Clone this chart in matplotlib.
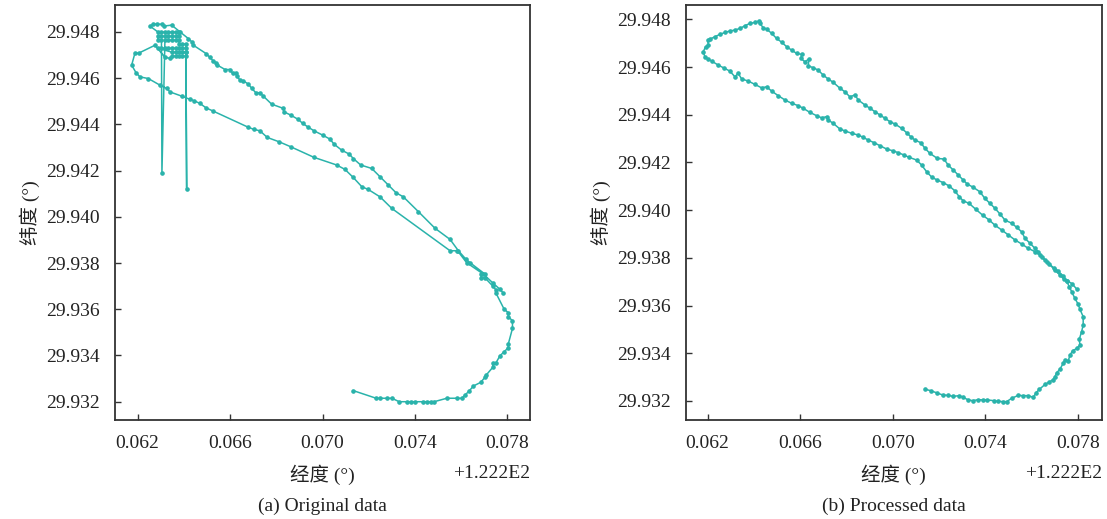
import matplotlib.pyplot as plt
from matplotlib.ticker import FuncFormatter, FixedLocator

plt.rcParams['font.family'] = ['Liberation Serif', 'Noto Sans CJK SC']
plt.rcParams['font.size'] = 14

LON0 = 122.2
COLOR = '#2ab3ab'

x_ticks = [0.062, 0.066, 0.070, 0.074, 0.078]
y_ticks = [29.932, 29.934, 29.936, 29.938, 29.940, 29.942, 29.944, 29.946, 29.948]

# (a) original data: longitude offset from 122.2, latitude
lon_a = [0.07133, 0.07232, 0.07249, 0.07281, 0.07300, 0.07332, 0.07364, 0.07382, 0.07400, 0.07434,
         0.07454, 0.07468, 0.07483, 0.07538, 0.07584, 0.07603, 0.07617, 0.07636, 0.07653, 0.07685,
         0.07703, 0.07708, 0.07737, 0.07737, 0.07751, 0.07768, 0.07786, 0.07804, 0.07804, 0.07822,
         0.07822, 0.07804, 0.07804, 0.07786, 0.07751, 0.07751, 0.07737, 0.07703, 0.07686, 0.07686,
         0.07703, 0.07639, 0.07621, 0.07588, 0.07552, 0.07487, 0.07415, 0.07350, 0.07318, 0.07285,
         0.07249, 0.07213, 0.07165, 0.07133, 0.07116, 0.07083, 0.07050, 0.07032, 0.07001, 0.06963,
         0.06939, 0.06914, 0.06895, 0.06862, 0.06833, 0.06830, 0.06780, 0.06744, 0.06729, 0.06712,
         0.06694, 0.06679, 0.06657, 0.06643, 0.06629, 0.06626, 0.06611, 0.06600, 0.06578, 0.06545,
         0.06539, 0.06527, 0.06513, 0.06496, 0.06441, 0.06434, 0.06419, 0.06383, 0.06347, 0.06315,
         0.06304, 0.06282, 0.06268, 0.06253,
         # jitter cluster
         0.06288, 0.06303, 0.06318, 0.06333, 0.06348, 0.06364, 0.06379,
         0.06379, 0.06364, 0.06348, 0.06333, 0.06318, 0.06303, 0.06288,
         0.06288, 0.06303, 0.06305, 0.06318, 0.06333, 0.06348, 0.06364, 0.06379,
         0.06379, 0.06394, 0.06409,
         0.06409, 0.06394, 0.06379, 0.06364, 0.06348, 0.06333, 0.06318, 0.06303, 0.06288,
         0.06348, 0.06364, 0.06379, 0.06394, 0.06409, 0.06412, 0.06409,
         0.06409, 0.06394, 0.06379, 0.06364, 0.06348, 0.06340, 0.06318, 0.06275,
         # west loop and return leg
         0.06207, 0.06188, 0.06174, 0.06193, 0.06210, 0.06246, 0.06297, 0.06326, 0.06340, 0.06390,
         0.06426, 0.06444, 0.06470, 0.06496, 0.06527, 0.06679, 0.06703, 0.06729, 0.06761, 0.06813,
         0.06862, 0.06963, 0.07061, 0.07097, 0.07133, 0.07170, 0.07198, 0.07249, 0.07300, 0.07552,
         0.07584, 0.07624, 0.07696, 0.07739, 0.07768, 0.07783]
lat_a = [29.93248, 29.93215, 29.93215, 29.93215, 29.93215, 29.93200, 29.93200, 29.93200, 29.93200, 29.93200,
         29.93200, 29.93200, 29.93200, 29.93215, 29.93215, 29.93215, 29.93229, 29.93248, 29.93268, 29.93284,
         29.93306, 29.93315, 29.93349, 29.93366, 29.93369, 29.93399, 29.93416, 29.93434, 29.93450, 29.93517,
         29.93550, 29.93568, 29.93585, 29.93600, 29.93669, 29.93683, 29.93700, 29.93736, 29.93736, 29.93752,
         29.93752, 29.93801, 29.93816, 29.93853, 29.93902, 29.93950, 29.94022, 29.94086, 29.94104, 29.94137,
         29.94173, 29.94209, 29.94224, 29.94252, 29.94271, 29.94288, 29.94314, 29.94336, 29.94353, 29.94372,
         29.94387, 29.94404, 29.94421, 29.94440, 29.94454, 29.94469, 29.94487, 29.94522, 29.94536, 29.94536,
         29.94555, 29.94574, 29.94588, 29.94591, 29.94608, 29.94623, 29.94620, 29.94637, 29.94637, 29.94656,
         29.94666, 29.94674, 29.94689, 29.94706, 29.94742, 29.94757, 29.94771, 29.94800, 29.94829, 29.94825,
         29.94833, 29.94833, 29.94833, 29.94825,
         29.94799, 29.94799, 29.94799, 29.94799, 29.94799, 29.94799, 29.94799,
         29.94781, 29.94781, 29.94781, 29.94781, 29.94781, 29.94781, 29.94781,
         29.94764, 29.94764, 29.94188, 29.94764, 29.94764, 29.94764, 29.94764, 29.94764,
         29.94747, 29.94747, 29.94747,
         29.94729, 29.94729, 29.94729, 29.94729, 29.94729, 29.94729, 29.94729, 29.94729, 29.94729,
         29.94712, 29.94712, 29.94712, 29.94712, 29.94712, 29.94120, 29.94712,
         29.94695, 29.94695, 29.94695, 29.94695, 29.94695, 29.94685, 29.94690, 29.94742,
         29.94709, 29.94707, 29.94656, 29.94623, 29.94605, 29.94598, 29.94569, 29.94555, 29.94540, 29.94522,
         29.94508, 29.94502, 29.94490, 29.94471, 29.94457, 29.94387, 29.94378, 29.94372, 29.94343, 29.94324,
         29.94303, 29.94257, 29.94224, 29.94205, 29.94170, 29.94130, 29.94118, 29.94086, 29.94036, 29.93853,
         29.93853, 29.93801, 29.93752, 29.93712, 29.93686, 29.93669]

# (b) processed data
lon_b = [0.07140, 0.07164, 0.07190, 0.07216, 0.07240, 0.07262, 0.07288, 0.07305, 0.07327, 0.07346,
         0.07370, 0.07392, 0.07409, 0.07438, 0.07457, 0.07478, 0.07493, 0.07515, 0.07543, 0.07565,
         0.07586, 0.07608, 0.07621, 0.07635, 0.07659, 0.07678, 0.07692, 0.07702, 0.07709, 0.07723,
         0.07738, 0.07745, 0.07759, 0.07767, 0.07778, 0.07798, 0.07810, 0.07807, 0.07817, 0.07824,
         0.07824, 0.07810, 0.07802, 0.07788, 0.07774, 0.07764, 0.07752, 0.07736, 0.07717, 0.07697,
         0.07666, 0.07644, 0.07630, 0.07615, 0.07594, 0.07572, 0.07558, 0.07536, 0.07515, 0.07486,
         0.07464, 0.07442, 0.07421, 0.07399, 0.07377, 0.07348, 0.07323, 0.07305, 0.07284, 0.07262,
         0.07240, 0.07222, 0.07193, 0.07161, 0.07140, 0.07121, 0.07096, 0.07078, 0.07060, 0.07039,
         0.07010, 0.06988, 0.06967, 0.06945, 0.06923, 0.06902, 0.06880, 0.06851, 0.06837, 0.06815,
         0.06794, 0.06772, 0.06743, 0.06721, 0.06700, 0.06678, 0.06657, 0.06635, 0.06638, 0.06621,
         0.06603, 0.06606, 0.06585, 0.06563, 0.06542, 0.06520, 0.06498, 0.06477, 0.06455, 0.06440,
         0.06426, 0.06422, 0.06405, 0.06383, 0.06361, 0.06340, 0.06318, 0.06296, 0.06275, 0.06253,
         0.06232, 0.06210, 0.06200, 0.06203, 0.06191, 0.06181, 0.06188, 0.06200, 0.06217, 0.06246,
         0.06272, 0.06296, 0.06318, 0.06332, 0.06347, 0.06376, 0.06405, 0.06433, 0.06455, 0.06477,
         0.06505, 0.06534, 0.06563, 0.06592, 0.06613, 0.06642, 0.06671, 0.06693, 0.06715, 0.06721,
         0.06743, 0.06772, 0.06794, 0.06823, 0.06851, 0.06873, 0.06894, 0.06919, 0.06945, 0.06974,
         0.07000, 0.07024, 0.07049, 0.07072, 0.07104, 0.07125, 0.07147, 0.07169, 0.07193, 0.07219,
         0.07245, 0.07269, 0.07288, 0.07305, 0.07331, 0.07360, 0.07389, 0.07418, 0.07442, 0.07471,
         0.07500, 0.07529, 0.07558, 0.07586, 0.07615, 0.07637, 0.07659, 0.07677, 0.07702, 0.07723,
         0.07741, 0.07756, 0.07775, 0.07796]
lat_b = [29.93249, 29.93243, 29.93234, 29.93225, 29.93223, 29.93219, 29.93222, 29.93215, 29.93204, 29.93201,
         29.93205, 29.93204, 29.93204, 29.93201, 29.93198, 29.93197, 29.93197, 29.93211, 29.93223, 29.93222,
         29.93222, 29.93215, 29.93235, 29.93249, 29.93269, 29.93280, 29.93288, 29.93301, 29.93318, 29.93332,
         29.93358, 29.93371, 29.93367, 29.93392, 29.93410, 29.93421, 29.93434, 29.93458, 29.93490, 29.93518,
         29.93553, 29.93584, 29.93606, 29.93630, 29.93658, 29.93679, 29.93703, 29.93724, 29.93743, 29.93757,
         29.93784, 29.93805, 29.93826, 29.93840, 29.93861, 29.93882, 29.93909, 29.93928, 29.93945, 29.93958,
         29.93984, 29.94008, 29.94028, 29.94049, 29.94077, 29.94096, 29.94109, 29.94126, 29.94147, 29.94168,
         29.94189, 29.94214, 29.94217, 29.94238, 29.94259, 29.94283, 29.94294, 29.94308, 29.94325, 29.94343,
         29.94361, 29.94371, 29.94385, 29.94399, 29.94413, 29.94427, 29.94441, 29.94462, 29.94483, 29.94475,
         29.94496, 29.94511, 29.94536, 29.94550, 29.94566, 29.94587, 29.94597, 29.94605, 29.94634, 29.94622,
         29.94636, 29.94653, 29.94657, 29.94671, 29.94685, 29.94704, 29.94720, 29.94741, 29.94759, 29.94765,
         29.94783, 29.94793, 29.94787, 29.94783, 29.94773, 29.94762, 29.94755, 29.94751, 29.94745, 29.94737,
         29.94727, 29.94717, 29.94713, 29.94692, 29.94685, 29.94664, 29.94643, 29.94634, 29.94625, 29.94608,
         29.94595, 29.94583, 29.94559, 29.94574, 29.94550, 29.94541, 29.94527, 29.94513, 29.94517, 29.94499,
         29.94480, 29.94462, 29.94448, 29.94438, 29.94427, 29.94410, 29.94396, 29.94387, 29.94392, 29.94378,
         29.94364, 29.94340, 29.94332, 29.94322, 29.94315, 29.94305, 29.94294, 29.94283, 29.94270, 29.94256,
         29.94249, 29.94241, 29.94231, 29.94221, 29.94210, 29.94189, 29.94161, 29.94138, 29.94126, 29.94115,
         29.94101, 29.94081, 29.94056, 29.94039, 29.94028, 29.94003, 29.93979, 29.93958, 29.93937, 29.93917,
         29.93896, 29.93875, 29.93858, 29.93840, 29.93826, 29.93812, 29.93791, 29.93774, 29.93749, 29.93728,
         29.93711, 29.93703, 29.93692, 29.93669]

panels = [
    (lon_a, lat_a, '(a) Original data', [0.1039, 0.1908, 0.3749, 0.800], (0.06102, 0.07898), (29.93121, 29.94917)),
    (lon_b, lat_b, '(b) Processed data', [0.6194, 0.1908, 0.3758, 0.800], (0.06105, 0.07904), (29.93120, 29.94861)),
]

fig = plt.figure(figsize=(11.07, 5.19), dpi=100)

for lon, lat, caption, rect, xl, yl in panels:
    ax = fig.add_axes(rect)
    ax.plot([LON0 + v for v in lon], lat, '-o', color=COLOR, lw=1.1, ms=2.3, mec=COLOR)
    ax.set_xlim(LON0 + xl[0], LON0 + xl[1])
    ax.set_ylim(*yl)
    ax.xaxis.set_major_locator(FixedLocator([LON0 + t for t in x_ticks]))
    ax.yaxis.set_major_locator(FixedLocator(y_ticks))
    ax.xaxis.set_major_formatter(FuncFormatter(lambda v, p: f'{v - LON0:.3f}'))
    ax.yaxis.set_major_formatter(FuncFormatter(lambda v, p: f'{v:.3f}'))
    ax.tick_params(direction='in', length=4, width=1, color='#333333', pad=11, labelsize=14,
                   labelcolor='#222222')
    for s in ax.spines.values():
        s.set_color('#333333')
        s.set_linewidth(1.3)
    ax.set_xlabel('经度 (°)', fontsize=14, color='#222222')
    ax.xaxis.set_label_coords(0.5, -0.108)
    ax.set_ylabel('纬度 (°)', fontsize=14, color='#222222')
    ax.text(1.0, -0.128, '+1.222E2', transform=ax.transAxes, ha='right', va='center',
            fontsize=14, color='#222222')
    ax.text(0.5, -0.207, caption, transform=ax.transAxes, ha='center', va='center',
            fontsize=14, color='#222222')

fig.savefig('out.png', dpi=100)
